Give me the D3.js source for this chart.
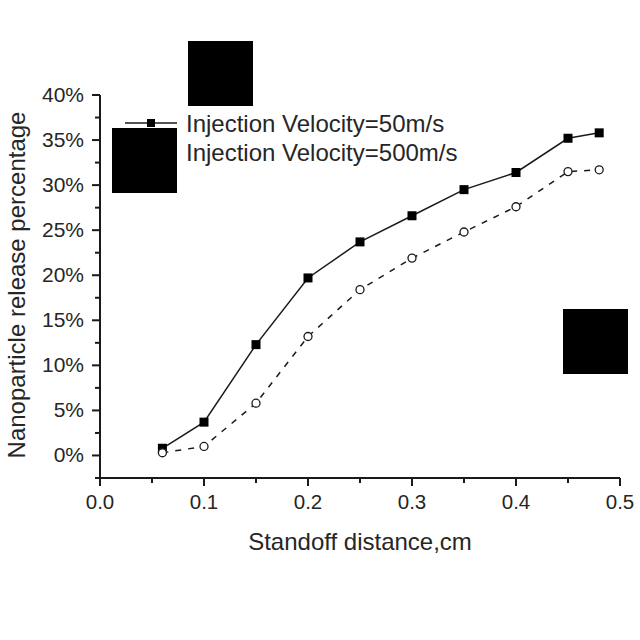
<!DOCTYPE html>
<html><head><meta charset="utf-8">
<script src="https://cdn.jsdelivr.net/npm/d3@7/dist/d3.min.js"></script>
<style>body{margin:0;background:#fff}svg{display:block}text{font-family:"Liberation Sans",Arial,sans-serif;fill:#262626}</style>
</head><body>
<script>
const distance = [0.06, 0.10, 0.15, 0.20, 0.25, 0.30, 0.35, 0.40, 0.45, 0.48];
const v50  = [0.8, 3.7, 12.3, 19.7, 23.7, 26.6, 29.5, 31.4, 35.2, 35.8];
const v500 = [0.3, 1.0, 5.8, 13.2, 18.4, 21.9, 24.8, 27.6, 31.5, 31.7];
const seriesNames = ["Injection Velocity=50m/s", "Injection Velocity=500m/s"];
const xTicks = [0, 0.1, 0.2, 0.3, 0.4, 0.5];
const yTicks = [0, 5, 10, 15, 20, 25, 30, 35, 40];

const W = 640, H = 640;
const svg = d3.select("body").append("svg").attr("width", W).attr("height", H);
const x = d3.scaleLinear().domain([0, 0.5]).range([100, 620]);
const y = d3.scaleLinear().domain([-2.5, 40]).range([478, 95]);
const ink = "#1a1a1a";

// X axis
const gx = svg.append("g").attr("transform", `translate(0,${y(-2.5)})`);
gx.append("line").attr("x1", x(0)).attr("x2", x(0.5)).attr("stroke", ink).attr("stroke-width", 2);
const xMinor = d3.range(0.05, 0.5, 0.1);
gx.selectAll(".xmaj").data(xTicks).join("line").attr("class","xmaj").attr("x1", d => x(d)).attr("x2", d => x(d)).attr("y1", 0).attr("y2", 8).attr("stroke", ink).attr("stroke-width", 2);
gx.selectAll(".xmin").data(xMinor).join("line").attr("class","xmin").attr("x1", d => x(d)).attr("x2", d => x(d)).attr("y1", 0).attr("y2", 5).attr("stroke", ink).attr("stroke-width", 2);
gx.selectAll(".xlab").data(xTicks).join("text").attr("class","xlab").attr("x", d => x(d)).attr("y", 31).attr("text-anchor", "middle").attr("font-size", 20.5).text(d => d3.format(".1f")(d));

// Y axis
const gy = svg.append("g").attr("transform", `translate(${x(0)},0)`);
gy.append("line").attr("y1", y(-2.5)).attr("y2", y(40)).attr("stroke", ink).attr("stroke-width", 2);
const yMinor = d3.range(-2.5, 40, 5);
gy.selectAll(".ymaj").data(yTicks).join("line").attr("class","ymaj").attr("y1", d => y(d)).attr("y2", d => y(d)).attr("x1", 0).attr("x2", -8).attr("stroke", ink).attr("stroke-width", 2);
gy.selectAll(".ymin").data(yMinor).join("line").attr("class","ymin").attr("y1", d => y(d)).attr("y2", d => y(d)).attr("x1", 0).attr("x2", -5).attr("stroke", ink).attr("stroke-width", 2);
gy.selectAll(".ylab").data(yTicks).join("text").attr("class","ylab").attr("x", -16).attr("y", d => y(d) + 7).attr("text-anchor", "end").attr("font-size", 21).text(d => d + "%");

// Axis titles
svg.append("text").attr("x", 360).attr("y", 550).attr("text-anchor", "middle").attr("font-size", 24).text("Standoff distance,cm");
svg.append("text").attr("transform", "translate(25,285) rotate(-90)").attr("text-anchor", "middle").attr("font-size", 24).text("Nanoparticle release percentage");

// Series
const pts1 = distance.map((d, i) => [d, v50[i]]);
const pts2 = distance.map((d, i) => [d, v500[i]]);
const line = d3.line().x(d => x(d[0])).y(d => y(d[1]));
svg.append("path").attr("d", line(pts2)).attr("fill", "none").attr("stroke", ink).attr("stroke-width", 1.5).attr("stroke-dasharray", "6,7");
svg.append("path").attr("d", line(pts1)).attr("fill", "none").attr("stroke", ink).attr("stroke-width", 1.5);
svg.selectAll(".sq").data(pts1).join("rect").attr("class","sq").attr("x", d => x(d[0]) - 4.5).attr("y", d => y(d[1]) - 4.5).attr("width", 9).attr("height", 9).attr("fill", "#000");
svg.selectAll(".ci").data(pts2).join("circle").attr("class","ci").attr("cx", d => x(d[0])).attr("cy", d => y(d[1])).attr("r", 4).attr("fill", "#fff").attr("stroke", ink).attr("stroke-width", 1.3);

// Legend
const lg = svg.append("g");
lg.append("line").attr("x1", 125).attr("x2", 177).attr("y1", 123).attr("y2", 123).attr("stroke", ink).attr("stroke-width", 1.5);
lg.append("rect").attr("x", 147).attr("y", 119).attr("width", 8).attr("height", 8).attr("fill", "#000");
lg.append("line").attr("x1", 125).attr("x2", 177).attr("y1", 153).attr("y2", 153).attr("stroke", ink).attr("stroke-width", 1.5).attr("stroke-dasharray", "6,7");
lg.append("circle").attr("cx", 151).attr("cy", 153).attr("r", 4).attr("fill", "#fff").attr("stroke", ink).attr("stroke-width", 1.3);
lg.selectAll(".lt").data(seriesNames).join("text").attr("class","lt").attr("x", 186).attr("y", (d, i) => 132 + i * 29).attr("font-size", 24).text(d => d);

// Occluding blocks present in the reference picture
const blocks = [[188, 41], [112, 128], [563, 309]];
svg.selectAll(".blk").data(blocks).join("rect").attr("class","blk").attr("x", d => d[0]).attr("y", d => d[1]).attr("width", 65).attr("height", 65).attr("fill", "#000");
</script>
</body></html>
